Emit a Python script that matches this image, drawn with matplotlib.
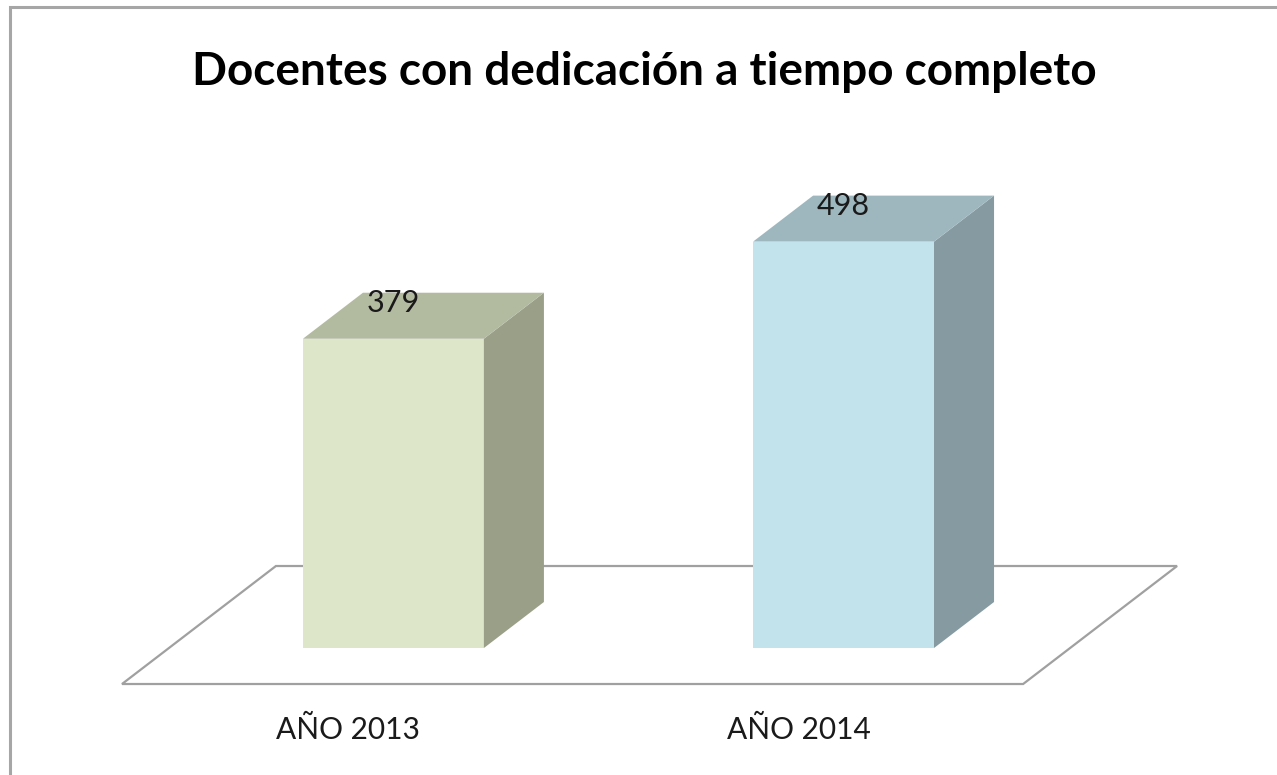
import matplotlib
matplotlib.use('Agg')
import matplotlib.pyplot as plt
from matplotlib.patches import Polygon, Rectangle

plt.rcParams['font.family'] = ['Lato', 'DejaVu Sans']

title = 'Docentes con dedicación a tiempo completo'
categories = ['AÑO 2013', 'AÑO 2014']
values = [379, 498]
front_colors = ['#DDE6C8', '#C2E3EC']
top_colors = ['#B2BAA0', '#9EB7BE']
side_colors = ['#9A9F88', '#869BA1']

# full depth of the floor in (category, value) units
depth_x, depth_y = 0.342, 144.6
floor_y = -44.1
bar_w = 0.402
bar_d0, bar_d1 = 0.305, 0.695   # bar occupies the middle of the floor depth

fig = plt.figure(figsize=(12.77, 7.75), dpi=100)
ax = fig.add_axes([0, 0, 1, 1])
ax.set_xlim(-0.874, 1.963)
ax.set_ylim(-155.6, 794.1)
ax.axis('off')

# outer frame (runs off the right and bottom edges)
fig.patches.append(Rectangle((9.5 / 1277, -0.1), 1.2, (775 - 7) / 775 + 0.1,
                             transform=fig.transFigure, fill=False,
                             edgecolor='#A6A6A6', linewidth=2.2))

# floor
fl, fr = -0.603, 1.399
floor = [(fl, floor_y), (fr, floor_y),
         (fr + depth_x, floor_y + depth_y), (fl + depth_x, floor_y + depth_y)]
ax.add_patch(Polygon(floor, closed=True, facecolor='white',
                     edgecolor='#A0A0A0', linewidth=1.6, zorder=1))

k = bar_d1 - bar_d0
dx, dy = depth_x * k, depth_y * k
for i, v in enumerate(values):
    x0, x1 = i - bar_w / 2, i + bar_w / 2
    front = [(x0, 0), (x1, 0), (x1, v), (x0, v)]
    side = [(x1, 0), (x1 + dx, dy), (x1 + dx, v + dy), (x1, v)]
    top = [(x0, v), (x1, v), (x1 + dx, v + dy), (x0 + dx, v + dy)]
    for pts, c in ((front, front_colors[i]), (side, side_colors[i]),
                   (top, top_colors[i])):
        ax.add_patch(Polygon(pts, closed=True, facecolor=c, edgecolor='none',
                             zorder=2))
    ax.text(i, v + 44, str(v), ha='center', va='center', fontsize=22,
            color='#1a1a1a', zorder=3)
    ax.text(i - 0.1, -100, categories[i], ha='center', va='center',
            fontsize=21.5, color='#1a1a1a')

fig.text(644 / 1277, 1 - 72 / 775, title, ha='center', va='center',
         fontsize=33, fontweight='bold', color='black')

fig.savefig('out.png', dpi=100, facecolor='white')
